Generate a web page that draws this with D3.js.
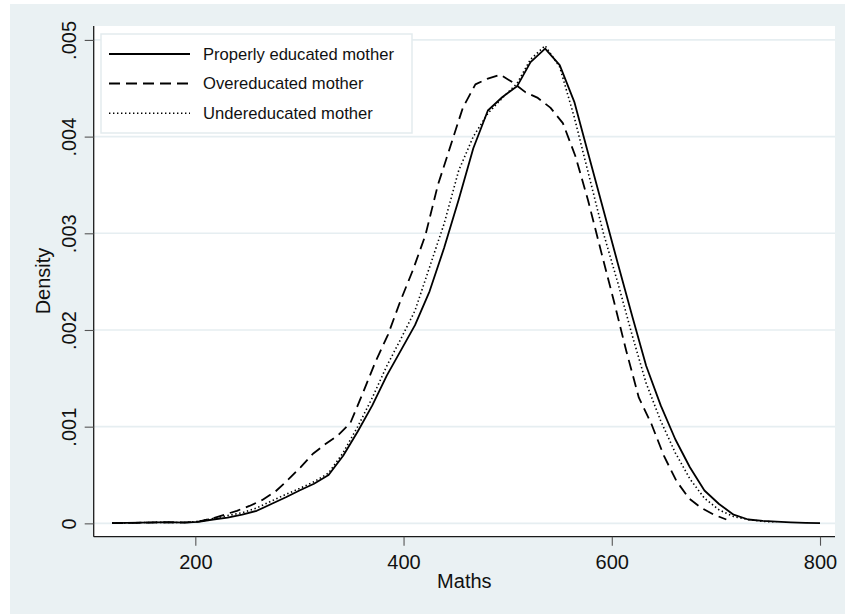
<!DOCTYPE html>
<html>
<head>
<meta charset="utf-8">
<script src="https://cdn.jsdelivr.net/npm/d3@7"></script>
<style>
  html, body { margin: 0; padding: 0; background: #ffffff; }
  svg { display: block; font-family: "Liberation Sans", Arial, sans-serif; }
</style>
</head>
<body>
<svg id="chart" width="845" height="615"></svg>
<script>
// Kernel density estimates of maths scores by mother's education match
const seriesNames = ["Properly educated mother", "Overeducated mother", "Undereducated mother"];

const properX = [120, 134, 148, 162, 175, 189, 203, 217, 231, 245, 259, 273, 287, 300, 314, 328, 342, 356, 370, 384,
                 398, 411, 425, 439, 453, 467, 481, 495, 509, 522, 536, 550, 564, 578, 592, 606, 620, 633, 647, 661,
                 675, 689, 703, 717, 731, 745, 758, 772, 786, 800];
const properY = [0.000003, 0.000005, 0.000007, 0.00001, 0.000012, 0.000008, 0.000015, 0.00004, 0.00006, 0.00009,
                 0.00013, 0.0002, 0.00027, 0.00034, 0.00041, 0.0005, 0.0007, 0.00095, 0.00122, 0.00153,
                 0.0018, 0.00205, 0.0024, 0.00285, 0.00335, 0.00388, 0.00427, 0.00441, 0.00452, 0.00477,
                 0.00491, 0.00474, 0.00436, 0.0038, 0.00324, 0.00268, 0.00213, 0.00163, 0.00122, 0.00087,
                 0.00058, 0.00034, 0.0002, 0.00009, 0.00004, 0.000025, 0.000017, 0.00001, 0.000005, 0.000002];

const overX = [120, 132, 144, 156, 168, 180, 192, 204, 216, 228, 240, 252, 264, 277, 289, 301, 313, 325, 337, 349,
               361, 373, 385, 397, 409, 421, 433, 445, 457, 469, 481, 493, 505, 517, 529, 541, 553, 565, 577, 590,
               602, 614, 626, 638, 650, 662, 674, 686, 698, 710];
const overY = [0.000002, 0.000004, 0.000006, 0.000008, 0.00001, 0.00001, 0.00001, 0.00002, 0.00005, 0.00009,
               0.00013, 0.00018, 0.00024, 0.00033, 0.00045, 0.00058, 0.00072, 0.00082, 0.00091, 0.00104,
               0.00135, 0.00167, 0.00195, 0.0023, 0.00262, 0.00298, 0.0035, 0.0039, 0.0043, 0.00454,
               0.0046, 0.00464, 0.00456, 0.00446, 0.0044, 0.0043, 0.00414, 0.0038, 0.00335, 0.0028,
               0.0023, 0.00178, 0.0013, 0.00103, 0.0007, 0.00044, 0.00026, 0.00016, 0.00009, 0.00004];

const underX = [120, 134, 148, 162, 175, 189, 203, 217, 231, 245, 259, 273, 287, 300, 314, 328, 342, 356, 370, 384,
                398, 411, 425, 439, 453, 467, 481, 495, 509, 522, 536, 550, 564, 578, 592, 606, 620, 633, 647, 661,
                675, 689, 703, 717, 731, 745, 758];
const underY = [0.000003, 0.000005, 0.000008, 0.00001, 0.00001, 0.000008, 0.00002, 0.00005, 0.00008, 0.00011,
                0.00016, 0.00023, 0.0003, 0.00036, 0.00043, 0.00052, 0.00073, 0.001, 0.0013, 0.00163,
                0.00192, 0.0022, 0.00265, 0.0031, 0.00365, 0.004, 0.00424, 0.0044, 0.00455, 0.0048,
                0.00494, 0.00472, 0.0042, 0.0036, 0.003, 0.00248, 0.00193, 0.00145, 0.00106, 0.00073,
                0.00046, 0.00026, 0.00014, 0.00007, 0.00004, 0.00002, 0.000015];

const xTicks = [200, 400, 600, 800];
const yTicks = [0, 0.001, 0.002, 0.003, 0.004, 0.005];
const yTickLabels = ["0", ".001", ".002", ".003", ".004", ".005"];

const series = [
  { name: seriesNames[0], xs: properX, ys: properY, dash: null, width: 1.8 },
  { name: seriesNames[1], xs: overX, ys: overY, dash: "11,6", width: 1.8 },
  { name: seriesNames[2], xs: underX, ys: underY, dash: "1.4,2.6", width: 1.6 }
];

const svg = d3.select("#chart");
const W = 845, H = 615;
const plot = { left: 93.7, right: 835, top: 26, bottom: 536.7 };

// outer graph region
svg.append("rect").attr("x", 10).attr("y", 4).attr("width", W - 10).attr("height", H - 5)
  .attr("fill", "#eaf1f3");
// plot region
svg.append("rect").attr("x", plot.left).attr("y", plot.top)
  .attr("width", plot.right - plot.left).attr("height", plot.bottom - plot.top)
  .attr("fill", "#ffffff");

const x = d3.scaleLinear().domain([102.4, 814.4]).range([plot.left, plot.right]);
const y = d3.scaleLinear().domain([-0.000138, 0.005144]).range([plot.bottom, plot.top]);

// horizontal grid lines
svg.append("g").selectAll("line").data(yTicks).join("line")
  .attr("x1", plot.left).attr("x2", plot.right)
  .attr("y1", d => y(d)).attr("y2", d => y(d))
  .attr("stroke", "#e6eef1").attr("stroke-width", 1.6);

// density curves
const line = d3.line().x(d => x(d[0])).y(d => y(d[1]));
svg.append("g").selectAll("path").data(series).join("path")
  .attr("d", s => line(s.xs.map((v, i) => [v, s.ys[i]])))
  .attr("fill", "none").attr("stroke", "#000")
  .attr("stroke-width", s => s.width)
  .attr("stroke-dasharray", s => s.dash)
  .attr("stroke-linejoin", "round");

// axes
const xAxis = d3.axisBottom(x).tickValues(xTicks).tickSize(9).tickPadding(9).tickFormat(d3.format("d"));
const gx = svg.append("g").attr("transform", `translate(0,${plot.bottom})`).call(xAxis);
gx.select(".domain").attr("d", `M${plot.left},0H${plot.right}`).attr("stroke", "#1a1a1a").attr("stroke-width", 1.3);
gx.selectAll(".tick line").attr("stroke", "#555").attr("stroke-width", 1.1);
gx.selectAll(".tick text").attr("font-size", 20).attr("fill", "#111")
  .attr("font-family", "Liberation Sans, Arial, sans-serif");

const yAxis = d3.axisLeft(y).tickValues(yTicks).tickSize(9).tickFormat((d, i) => yTickLabels[i]);
const gy = svg.append("g").attr("transform", `translate(${plot.left},0)`).call(yAxis);
gy.select(".domain").attr("d", `M0,${plot.top}V${plot.bottom}`).attr("stroke", "#1a1a1a").attr("stroke-width", 1.3);
gy.selectAll(".tick line").attr("stroke", "#555").attr("stroke-width", 1.1);
gy.selectAll(".tick text")
  .attr("font-size", 20).attr("fill", "#111")
  .attr("font-family", "Liberation Sans, Arial, sans-serif")
  .attr("x", null).attr("dy", null)
  .attr("text-anchor", "middle")
  .attr("transform", "translate(-17.5,0) rotate(-90)");

// axis titles
svg.append("text").attr("x", (plot.left + plot.right) / 2).attr("y", 588)
  .attr("text-anchor", "middle").attr("font-size", 20).attr("fill", "#111").text("Maths");
svg.append("text").attr("transform", "translate(50,281) rotate(-90)")
  .attr("text-anchor", "middle").attr("font-size", 20).attr("fill", "#111").text("Density");

// legend
const leg = svg.append("g");
leg.append("rect").attr("x", 101).attr("y", 34).attr("width", 311).attr("height", 99)
  .attr("fill", "#ffffff").attr("stroke", "#e3ebee").attr("stroke-width", 1.5);
const rowY = [54, 83.5, 113.3];
series.forEach((s, i) => {
  leg.append("line").attr("x1", 109).attr("x2", 190).attr("y1", rowY[i]).attr("y2", rowY[i])
    .attr("stroke", "#000").attr("stroke-width", s.width).attr("stroke-dasharray", s.dash);
  leg.append("text").attr("x", 203).attr("y", rowY[i]).attr("dy", "0.36em")
    .attr("font-size", 16.6).attr("fill", "#111").text(s.name);
});
</script>
</body>
</html>
